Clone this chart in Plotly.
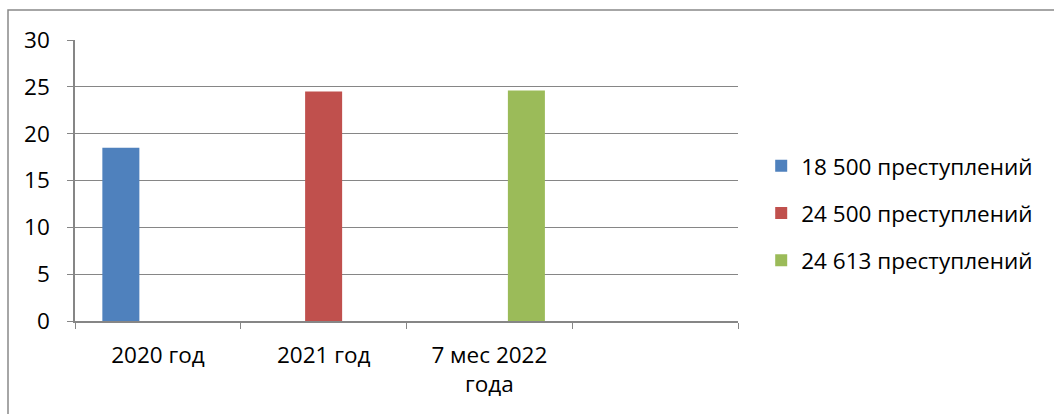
import plotly.graph_objects as go

categories = ["2020 год", "2021 год", "7 мес 2022<br>года", " "]
series_names = ["18 500 преступлений", "24 500 преступлений", "24 613 преступлений"]
series_values = [
    [18.5, None, None, None],
    [None, 24.5, None, None],
    [None, None, 24.613, None],
]
colors = ["#4F81BD", "#C0504D", "#9BBB59"]
y_ticks = [0, 5, 10, 15, 20, 25, 30]

W, H = 1054, 414
L, R, T, B = 75, 1054 - 738, 40, 414 - 321

fig = go.Figure()
for i, (name, vals) in enumerate(zip(series_names, series_values)):
    fig.add_trace(go.Bar(
        x=categories, y=vals, name=name, marker_color=colors[i],
        marker_line_width=0, legendgroup=f"g{i}",
    ))

grid = "#868686"
font = "'Open Sans', sans-serif"
fig.update_layout(
    width=W, height=H,
    margin=dict(l=L, r=R, t=T, b=B),
    paper_bgcolor="white", plot_bgcolor="white",
    barmode="group", bargap=0.33, bargroupgap=0,
    font=dict(family=font, size=22.5, color="black"),
    showlegend=True,
    legend=dict(
        x=1.035, y=0.384, xanchor="left", yanchor="middle",
        traceorder="grouped", tracegroupgap=15,
        font=dict(size=22.5), itemwidth=30, borderwidth=0,
    ),
    xaxis=dict(
        type="category", categoryorder="array", categoryarray=categories,
        tickson="boundaries", ticks="outside", ticklen=6, tickcolor=grid,
        showline=True, linecolor=grid, linewidth=1.5, showgrid=False,
        ticklabelstandoff=13,
    ),
    yaxis=dict(
        range=[0, 30], tickvals=y_ticks, ticks="outside", ticklen=6,
        tickcolor=grid, showline=True, linecolor=grid, linewidth=1.5,
        showgrid=True, gridcolor=grid, gridwidth=1.2, zeroline=False,
        ticklabelstandoff=13,
    ),
)

pw, ph = W - L - R, H - T - B
fig.add_shape(
    type="rect", xref="paper", yref="paper",
    x0=(8 - L) / pw, x1=(W + 20 - L) / pw,
    y0=(H - T - B - (H + 20 - T)) / ph, y1=(H - B - 10) / ph,
    line=dict(color="#898989", width=1.5), fillcolor="rgba(0,0,0,0)", layer="below",
)

fig.write_html("out.html")
